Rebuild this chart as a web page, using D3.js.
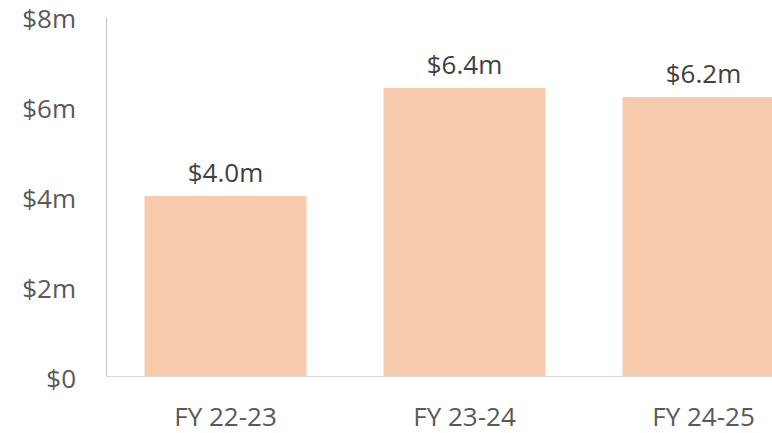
<!DOCTYPE html>
<html>
<head>
<meta charset="utf-8">
<script src="https://cdn.jsdelivr.net/npm/d3@7"></script>
<style>
  html, body { margin: 0; padding: 0; background: #fff; overflow: hidden; }
  svg { display: block; font-family: "Open Sans", "Noto Sans", sans-serif; }
</style>
</head>
<body>
<svg id="chart" width="772" height="433"></svg>
<script>
// chart data
var years = ["FY 22-23", "FY 23-24", "FY 24-25"];
var revenue = [4.0, 6.4, 6.2];
var yTicks = [0, 2, 4, 6, 8];

var svg = d3.select("#chart");

var margin = { left: 106, top: 16, bottom: 376 };
var fontSize = 26;

// the third bar runs past the right edge like in the original export
var x = d3.scaleBand()
  .domain(years)
  .range([margin.left, margin.left + 3 * 239])
  .paddingInner(0.322)
  .paddingOuter(0.161);

var y = d3.scaleLinear()
  .domain([0, 8])
  .range([margin.bottom, margin.top]);

// bars
svg.append("g")
  .selectAll("rect")
  .data(revenue)
  .join("rect")
  .attr("x", function (d, i) { return x(years[i]); })
  .attr("y", function (d) { return y(d); })
  .attr("width", x.bandwidth())
  .attr("height", function (d) { return y(0) - y(d); })
  .attr("fill", "#f7cbac");

// y axis
var yAxis = svg.append("g")
  .attr("transform", "translate(" + margin.left + ",0)")
  .call(d3.axisLeft(y).tickValues(yTicks).tickSize(0).tickPadding(30)
    .tickFormat(function (d) { return d == 0 ? "$0" : "$" + d + "m"; }));
yAxis.select(".domain").attr("stroke", "#bfbfbf").attr("stroke-width", 1)
  .attr("d", "M0.5," + (y(8) + 2) + "V" + (y(0) + 0.5));
yAxis.selectAll("text")
  .attr("fill", "#595959")
  .attr("font-size", fontSize)
  .attr("font-family", "'Open Sans', sans-serif")
  .attr("dy", "0.44em");

// x axis
var xAxis = svg.append("g")
  .attr("transform", "translate(0," + margin.bottom + ")")
  .call(d3.axisBottom(x).tickSize(0).tickPadding(0));
xAxis.select(".domain").attr("stroke", "#d9d9d9").attr("stroke-width", 1)
  .attr("d", "M" + margin.left + ",0.5H772");
xAxis.selectAll("text")
  .attr("fill", "#595959")
  .attr("font-size", fontSize)
  .attr("font-family", "'Open Sans', sans-serif")
  .attr("y", 50)
  .attr("dy", null);

// value labels
svg.append("g")
  .selectAll("text")
  .data(revenue)
  .join("text")
  .attr("x", function (d, i) { return x(years[i]) + x.bandwidth() / 2; })
  .attr("y", function (d) { return y(d) - 14; })
  .attr("text-anchor", "middle")
  .attr("fill", "#404040")
  .attr("font-size", fontSize)
  .text(function (d) { return "$" + d.toFixed(1) + "m"; });
</script>
</body>
</html>
